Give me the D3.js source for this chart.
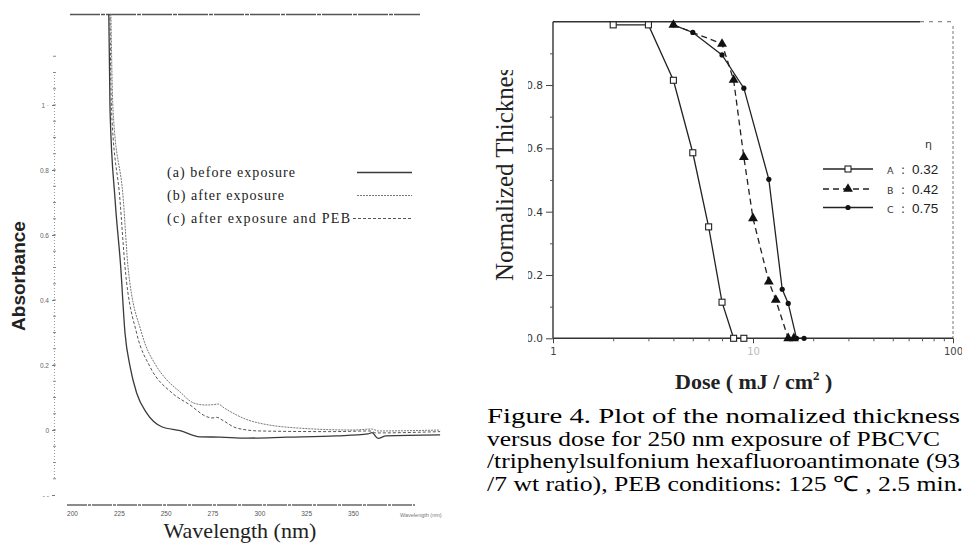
<!DOCTYPE html>
<html><head><meta charset="utf-8">
<script src="https://cdn.jsdelivr.net/npm/d3@7/dist/d3.min.js"></script>
<style>
body{margin:0;background:#fff}svg{display:block}
.serif{font-family:"Liberation Serif","Times New Roman",Times,serif}
.sans{font-family:"Liberation Sans",Arial,Helvetica,sans-serif}
.dsans{font-family:"DejaVu Sans","Liberation Sans",sans-serif}
</style>
</head><body>
<svg id="c" width="962" height="545"></svg>
<script>
// ---------- Left panel: UV absorbance spectra ----------
const nmA  = [219.6,220.3,223.0,226.0,228.3,231.0,234.5,239.9,247.9,257.7,268.3,279.0,293.3,314.6,341.3,358.0,360.2,363.4,367.6,396.5];
const absA = [1.30,0.985,0.708,0.502,0.298,0.195,0.114,0.052,0.010,-0.002,-0.021,-0.022,-0.025,-0.022,-0.018,-0.012,-0.008,-0.026,-0.018,-0.015];
const nmB  = [220.7,221.9,227.4,229.9,237.2,245.2,249.7,257.7,264.6,271.0,275.8,278.0,281.2,296.6,323.3,350.0,360.2,363.4,396.5];
const absB = [1.30,0.985,0.708,0.502,0.298,0.195,0.160,0.117,0.084,0.077,0.078,0.080,0.068,0.026,0.005,0.000,0.003,-0.003,0.000];
const nmC  = [220.2,221.1,225.6,228.3,234.5,241.6,253.4,263.0,271.9,274.7,277.3,280.1,287.9,300.4,337.7,359.1,362.3,396.5];
const absC = [1.30,0.985,0.708,0.502,0.298,0.195,0.114,0.077,0.041,0.037,0.039,0.031,0.006,-0.003,-0.005,-0.003,-0.009,-0.005];
const specLabels = ["(a)  before  exposure","(b)  after  exposure","(c)  after  exposure  and  PEB"];
const absTicks = [-0.2,0,0.2,0.4,0.6,0.8,1.0];
const absTickLabels = ["- -","0","0.2","0.4","0.6","0.8","1 \u00b7"];
const wlTicks = [200,225,250,275,300,325,350];
const wlTickLabels = ["200","225","250","275","300","325","350"];

// ---------- Right panel: normalized thickness vs dose ----------
const doseA = [2,3,4,5,6,7,8,9];
const thkA  = [0.99,0.99,0.815,0.586,0.352,0.114,0,0];
const doseB = [4,7,8,9,10,12,13,15,16];
const thkB  = [0.99,0.93,0.816,0.572,0.379,0.179,0.121,0,0];
const doseC = [4,5,7,9,12,14,15,16.5,18];
const thkC  = [0.99,0.966,0.895,0.79,0.502,0.155,0.11,0,0];
const seriesNames = ["A","B","C"];
const etaValues = ["0.32","0.42","0.75"];
const thkTicks = [0,0.2,0.4,0.6,0.8];
const doseTicks = [1,10,100];
const captionLines = [
  "Figure 4.  Plot  of  the  nomalized  thickness",
  "versus dose for 250 nm exposure of PBCVC",
  "/triphenylsulfonium hexafluoroantimonate (93",
  "/7 wt ratio), PEB conditions: 125 \u2103 , 2.5 min."
];

const svg = d3.select("#c");
const defs = svg.append("defs");
defs.append("clipPath").attr("id","clipL").append("rect").attr("x",56).attr("y",14).attr("width",400).attr("height",520);
defs.append("clipPath").attr("id","clipYlab").append("rect").attr("x",0).attr("y",70).attr("width",962).attr("height",475);
defs.append("clipPath").attr("id","clipYtick").append("rect").attr("x",528).attr("y",0).attr("width",434).attr("height",545);

// ===== LEFT =====
const xL = d3.scaleLinear().domain([200,350]).range([72,353]);
const yL = d3.scaleLinear().domain([0,0.8]).range([430,170]);
const gL = svg.append("g");

gL.append("line").attr("x1",70).attr("x2",420).attr("y1",14.5).attr("y2",14.5)
  .attr("stroke","#555").attr("stroke-width",1.6).attr("stroke-dasharray","30,1,4,1");
gL.append("line").attr("x1",67).attr("x2",415).attr("y1",505).attr("y2",505)
  .attr("stroke","#666").attr("stroke-width",1.3).attr("stroke-dasharray","20,1,3,1");

gL.append("line").attr("x1",54.5).attr("x2",54.5).attr("y1",72).attr("y2",480)
  .attr("stroke","#999").attr("stroke-width",1).attr("stroke-dasharray","1,2");
const minorAbs = d3.range(-0.15,1.16,0.05);
gL.selectAll(".mt").data(minorAbs).join("line")
  .attr("x1",53).attr("x2",56).attr("y1",d=>yL(d)).attr("y2",d=>yL(d))
  .attr("stroke","#888").attr("stroke-width",1);
const yAxL = d3.axisLeft(yL).tickValues(absTicks).tickSize(3).tickPadding(3)
  .tickFormat((d,i)=>absTickLabels[i]);
gL.append("g").attr("transform","translate(55,0)").call(yAxL)
  .call(g=>g.select(".domain").remove())
  .call(g=>g.selectAll("line").attr("stroke","#777"))
  .call(g=>g.selectAll("text").attr("class","sans").attr("font-family",null).attr("font-size",6.5).attr("fill","#666"));

const xAxL = d3.axisBottom(xL).tickValues(wlTicks).tickSize(0).tickPadding(6)
  .tickFormat((d,i)=>wlTickLabels[i]);
gL.append("g").attr("transform","translate(0,505)").call(xAxL)
  .call(g=>g.select(".domain").remove())
  .call(g=>g.selectAll("text").attr("class","sans").attr("font-size",6.5).attr("fill","#555"));
gL.append("text").attr("class","sans").attr("x",400).attr("y",517)
  .attr("font-size",5.5).attr("fill","#777").text("Wavelength (nm)");

const lineL = d3.line().x(d=>xL(d[0])).y(d=>yL(d[1])).curve(d3.curveMonotoneX);
const curves = [
  {nm:nmA, ab:absA, stroke:"#3a3a3a", w:1.3, dash:null},
  {nm:nmB, ab:absB, stroke:"#777", w:1.0, dash:"2,1"},
  {nm:nmC, ab:absC, stroke:"#555", w:1.0, dash:"3,2"}
];
const gC = gL.append("g").attr("clip-path","url(#clipL)");
curves.forEach(c=>{
  gC.append("path").datum(c.nm.map((v,i)=>[v,c.ab[i]])).attr("d",lineL)
    .attr("fill","none").attr("stroke",c.stroke).attr("stroke-width",c.w)
    .attr("stroke-dasharray",c.dash);
});

const legYs = [177,200,223];
const legLen = [128,117,183];
specLabels.forEach((t,i)=>{
  gL.append("text").attr("class","serif").attr("x",167).attr("y",legYs[i])
    .attr("font-size",14).attr("fill","#222").attr("textLength",legLen[i]).attr("lengthAdjust","spacing").text(t);
  gL.append("line").attr("x1",i===2?353:357).attr("x2",412).attr("y1",legYs[i]-4.5).attr("y2",legYs[i]-4.5)
    .attr("stroke",curves[i].stroke).attr("stroke-width",i===0?1.4:1.1).attr("stroke-dasharray",curves[i].dash);
});

gL.append("text").attr("class","sans").attr("transform","translate(25,276) rotate(-90)").attr("text-anchor","middle")
  .attr("font-weight","bold").attr("font-size",19).attr("fill","#222").text("Absorbance");
gL.append("text").attr("class","serif").attr("x",240).attr("y",538).attr("text-anchor","middle")
  .attr("font-size",22).attr("fill","#222").text("Wavelength (nm)");

// ===== RIGHT =====
const xR = d3.scaleLog().domain([1,100]).range([553,953]);
const yR = d3.scaleLinear().domain([0,1]).range([338.3,21.7]);
const gR = svg.append("g");

gR.append("line").attr("x1",553).attr("x2",920).attr("y1",21.7).attr("y2",21.7).attr("stroke","#333").attr("stroke-width",1.4);
gR.append("line").attr("x1",920).attr("x2",953).attr("y1",21.7).attr("y2",21.7).attr("stroke","#888").attr("stroke-width",1.2).attr("stroke-dasharray","4,5");
gR.append("line").attr("x1",953).attr("x2",953).attr("y1",26).attr("y2",338.3).attr("stroke","#777").attr("stroke-width",1).attr("stroke-dasharray","3,2");
gR.append("line").attr("x1",553).attr("x2",553).attr("y1",21.7).attr("y2",338.3).attr("stroke","#333").attr("stroke-width",1.4);
gR.append("line").attr("x1",553).attr("x2",953).attr("y1",338.3).attr("y2",338.3).attr("stroke","#333").attr("stroke-width",1.4);

const yAxR = d3.axisLeft(yR).tickValues(thkTicks).tickSize(7).tickPadding(3).tickFormat(d3.format(".1f"));
gR.append("g").attr("clip-path","url(#clipYtick)").append("g").attr("transform","translate(553,0)").call(yAxR)
  .call(g=>g.select(".domain").remove())
  .call(g=>g.selectAll("line").attr("stroke","#444"))
  .call(g=>g.selectAll("text").attr("class","dsans").attr("font-size",10.5).attr("fill","#333"));
const yMinR = d3.axisLeft(yR).tickValues([0.1,0.3,0.5,0.7,0.9]).tickSize(3).tickFormat("");
gR.append("g").attr("transform","translate(553,0)").call(yMinR)
  .call(g=>g.select(".domain").remove()).call(g=>g.selectAll("line").attr("stroke","#555"));

const xAxR = d3.axisBottom(xR).tickValues(doseTicks).tickSize(5).tickPadding(5).tickFormat(d3.format("d"));
gR.append("g").attr("transform","translate(0,338.3)").call(xAxR)
  .call(g=>g.select(".domain").remove())
  .call(g=>g.selectAll("line").attr("stroke","#444"))
  .call(g=>g.selectAll("text").attr("class","dsans").attr("font-size",10).attr("fill",(d)=>d===10?"#bbb":"#444"));
const minorDose = [2,3,4,5,6,7,8,9,20,30,40,50,60,70,80,90];
const xMinR = d3.axisBottom(xR).tickValues(minorDose).tickSize(3).tickFormat("");
gR.append("g").attr("transform","translate(0,338.3)").call(xMinR)
  .call(g=>g.select(".domain").remove()).call(g=>g.selectAll("line").attr("stroke","#555"));

const lineR = d3.line().x(d=>xR(d[0])).y(d=>yR(d[1]));
const sData = [
  {dose:doseA, thk:thkA, dash:null, mark:"square"},
  {dose:doseB, thk:thkB, dash:"6,4", mark:"triangle"},
  {dose:doseC, thk:thkC, dash:null, mark:"circle"}
];
function drawMarker(g, type, x, y){
  if(type==="square") g.append("rect").attr("x",x-3).attr("y",y-3).attr("width",6).attr("height",6)
    .attr("fill","#fff").attr("stroke","#222").attr("stroke-width",1.1);
  else if(type==="triangle") g.append("path").attr("d",d3.symbol(d3.symbolTriangle,42)()).attr("transform",`translate(${x},${y})`).attr("fill","#111");
  else g.append("circle").attr("cx",x).attr("cy",y).attr("r",2.6).attr("fill","#111");
}
sData.forEach(s=>{
  const pts = s.dose.map((v,i)=>[v,s.thk[i]]);
  gR.append("path").datum(pts).attr("d",lineR).attr("fill","none").attr("stroke","#222")
    .attr("stroke-width",1.3).attr("stroke-dasharray",s.dash);
});
sData.forEach(s=>{
  s.dose.forEach((v,i)=>drawMarker(gR, s.mark, xR(v), yR(s.thk[i])));
});

gR.append("text").attr("class","dsans").attr("x",925).attr("y",148).attr("font-size",11).attr("fill","#333").text("\u03b7");
const legRY = [169,189,207.5];
sData.forEach((s,i)=>{
  gR.append("line").attr("x1",823).attr("x2",873).attr("y1",legRY[i]).attr("y2",legRY[i])
    .attr("stroke","#222").attr("stroke-width",1.3).attr("stroke-dasharray",s.dash);
  drawMarker(gR, s.mark, 848, legRY[i]);
  gR.append("text").attr("class","dsans").attr("x",887).attr("y",legRY[i]+5)
    .attr("font-size",9.5).attr("fill","#333").text(seriesNames[i]);
  gR.append("text").attr("class","dsans").attr("x",901).attr("y",legRY[i]+5)
    .attr("font-size",12).attr("fill","#333").text(":");
  gR.append("text").attr("class","sans").attr("x",912).attr("y",legRY[i]+5)
    .attr("font-size",13.5).attr("fill","#222").text(etaValues[i]);
});

gR.append("g").attr("clip-path","url(#clipYlab)").append("text").attr("class","serif")
  .attr("transform","translate(513,281) rotate(-90)")
  .attr("font-size",24.5).attr("fill","#222").attr("textLength",224).attr("lengthAdjust","spacingAndGlyphs")
  .text("Normalized Thickness");
const xt = gR.append("text").attr("class","serif").attr("x",675).attr("y",389)
  .attr("font-weight","bold").attr("font-size",22).attr("fill","#222");
xt.append("tspan").text("Dose ( mJ / cm");
xt.append("tspan").attr("dy",-9).attr("font-size",13).text("2");
xt.append("tspan").attr("dy",9).text(" )");

const capY = [423,445.5,468,490.5];
const capLen = [473,453,473,476];
captionLines.forEach((t,i)=>{
  svg.append("text").attr("class","serif").attr("x",487).attr("y",capY[i])
    .attr("font-size",21).attr("fill","#000").attr("textLength",capLen[i]).attr("lengthAdjust","spacingAndGlyphs").text(t);
});
</script>
</body></html>
